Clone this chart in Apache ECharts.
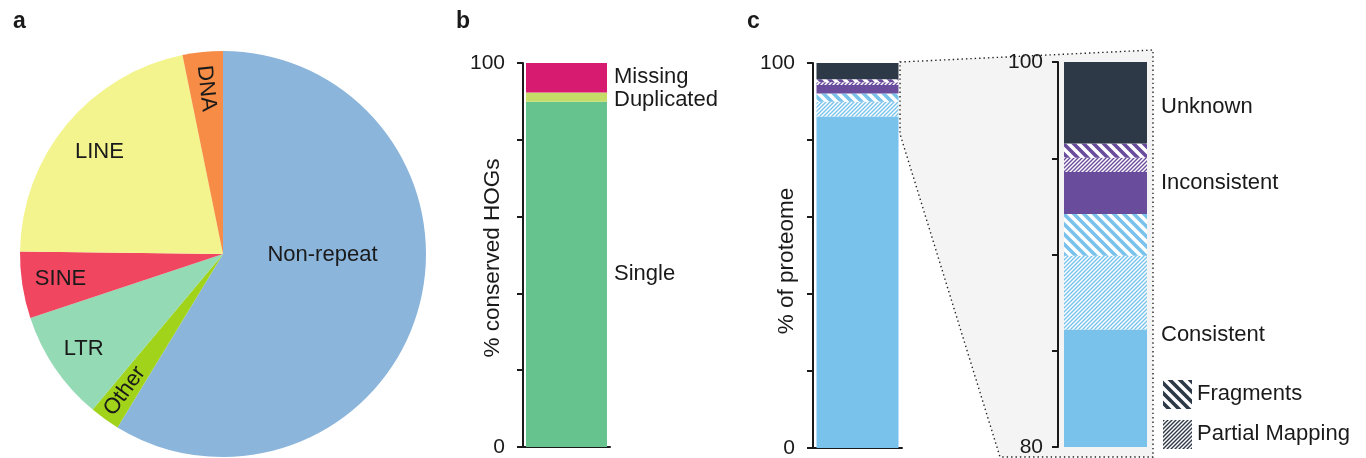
<!DOCTYPE html>
<html><head><meta charset="utf-8">
<script src="https://cdn.jsdelivr.net/npm/echarts@6/dist/echarts.min.js"></script>
<style>html,body{margin:0;padding:0;background:#fff}#c{width:1366px;height:458px}</style>
</head><body><div id="c"></div>
<script>
// ---------- data ----------
const pieCategories = ['Non-repeat', 'Other', 'LTR', 'SINE', 'LINE', 'DNA'];
const pieValues = [58.7, 2.4, 8.8, 5.3, 21.6, 3.2];

const hogCategories = ['Single', 'Duplicated', 'Missing'];
const hogValues = [89.9, 2.4, 7.7];

const proteomeCategories = ['Consistent', 'Consistent partial mapping', 'Consistent fragments',
  'Inconsistent', 'Inconsistent partial mapping', 'Inconsistent fragments', 'Unknown'];
const proteomeValues = [86.1, 3.84, 2.17, 2.17, 0.75, 0.73, 4.24];
const proteomeGroups = ['Consistent', 'Inconsistent', 'Unknown'];
const proteomeGroupMembers = [[0, 1, 2], [3, 4, 5], [6]];

const hogTickLabels = ['0', '100'];
const proteomeTickLabels = ['0', '100'];
const zoomTickLabels = ['80', '100'];
const legendLabels = ['Fragments', 'Partial Mapping'];
const panelLetters = ['a', 'b', 'c'];
const axisNames = ['% conserved HOGs', '% of proteome'];

// ---------- styles ----------
const FONT = '"Liberation Sans", Arial, Helvetica, sans-serif';
const TXT = '#1a1a1a';
const AX = '#1a1a1a';
const pieColors = ['#8bb5db', '#a0d31a', '#93dab5', '#f0465f', '#f4f48f', '#f68c45'];
const hogColors = ['#66c38e', '#c5dc68', '#d71b71'];
const hogLabelOffsets = [[0, 0], [0, 3], [0, -1]];
const BLUE = '#78c2ec', PURPLE = '#6a4c9c', DARK = '#2e3947';

function stripes(fg, bg, s, lw, dir) {
  const c = document.createElement('canvas'); c.width = s; c.height = s;
  const g = c.getContext('2d'); g.fillStyle = bg; g.fillRect(0, 0, s, s);
  g.strokeStyle = fg; g.lineWidth = lw; g.beginPath();
  for (let k = -2; k <= 2; k++) {
    if (dir === '\\') { g.moveTo(k * s - s, -s); g.lineTo(k * s + 2 * s, 2 * s); }
    else { g.moveTo(k * s + 2 * s, -s); g.lineTo(k * s - s, 2 * s); }
  }
  g.stroke();
  return { image: c, repeat: 'repeat' };
}
const frag = c => stripes(c, '#ffffff', 10, 3.6, '\\');
const part = c => stripes(c, '#ffffff', 4, 1.4, '/');
const proteomeFills = [BLUE, part(BLUE), frag(BLUE), PURPLE, part(PURPLE), frag(PURPLE), DARK];

const pieCenter = [223, 254], pieR = 203;
const pieLabelStyle = {
  'Non-repeat': { rf: 0.49, ang: 90.5, rot: 0 },
  'Other': { rf: 0.83, rot: 54 },
  'LTR': { rf: 0.83, rot: 0 },
  'SINE': { rf: 0.81, rot: 0 },
  'LINE': { rf: 0.79, rot: 0 },
  'DNA': { rf: 0.82, rot: -84 }
};
const pieTotal = pieValues.reduce((a, b) => a + b, 0);
const pieMid = []; { let acc = 0; pieValues.forEach(v => { pieMid.push((acc + v / 2) / pieTotal * 360); acc += v; }); }

function yAxisCfg(gi, min, max, interval, labels, margin) {
  return {
    type: 'value', gridIndex: gi, min, max, interval,
    axisLine: { show: true, lineStyle: { color: AX, width: 2 } },
    axisTick: { show: true, length: 6, lineStyle: { color: AX, width: 2 } },
    splitLine: { show: false },
    axisLabel: { fontSize: 21, color: TXT, fontFamily: FONT, margin,
      formatter: v => labels.includes(String(v)) ? String(v) : '' }
  };
}
function xAxisCfg(gi, showLine) {
  return { type: 'category', gridIndex: gi, data: [''],
    axisLine: { show: showLine, onZero: false, lineStyle: { color: AX, width: 2 } },
    axisTick: { show: false }, axisLabel: { show: false }, splitLine: { show: false } };
}

const series = [];
series.push({
  type: 'pie', center: pieCenter, radius: pieR, startAngle: 90, clockwise: true, silent: true,
  data: pieCategories.map((n, i) => ({ name: n, value: pieValues[i], itemStyle: { color: pieColors[i] } })),
  label: { show: true, position: 'inside', formatter: '{b}', fontSize: 22, color: TXT, fontFamily: FONT },
  labelLine: { show: false },
  labelLayout: p => {
    const n = pieCategories[p.dataIndex]; const st = pieLabelStyle[n];
    const a = (st.ang != null ? st.ang : pieMid[p.dataIndex]) * Math.PI / 180;
    return { x: pieCenter[0] + Math.sin(a) * st.rf * pieR, y: pieCenter[1] - Math.cos(a) * st.rf * pieR,
      rotate: st.rot, align: 'center', verticalAlign: 'middle' };
  }
});
hogCategories.forEach((n, i) => series.push({
  type: 'bar', name: n, xAxisIndex: 0, yAxisIndex: 0, stack: 'hog', barWidth: 81, silent: true,
  data: [hogValues[i]], itemStyle: { color: hogColors[i] },
  label: { show: true, position: 'right', distance: 7, offset: hogLabelOffsets[i], formatter: n,
    fontSize: 22, color: TXT, fontFamily: FONT }
}));
[1, 2].forEach(gi => proteomeCategories.forEach((n, i) => series.push({
  type: 'bar', name: n, xAxisIndex: gi, yAxisIndex: gi, stack: 'prot' + gi, barWidth: gi === 1 ? 82 : 83,
  silent: true, clip: true, data: [proteomeValues[i]], itemStyle: { color: proteomeFills[i] }
})));

const chart = echarts.init(document.getElementById('c'), null, { renderer: 'canvas' });
chart.setOption({
  animation: false,
  backgroundColor: '#ffffff',
  textStyle: { fontFamily: FONT },
  grid: [
    { left: 523, top: 63, width: 87, height: 384, outerBoundsMode: 'none' },
    { left: 813, top: 63, width: 89, height: 385, outerBoundsMode: 'none' },
    { left: 1058, top: 62, width: 95, height: 385, outerBoundsMode: 'none' }
  ],
  xAxis: [xAxisCfg(0, true), xAxisCfg(1, true), xAxisCfg(2, false)],
  yAxis: [
    yAxisCfg(0, 0, 100, 20, hogTickLabels, 18),
    yAxisCfg(1, 0, 100, 20, proteomeTickLabels, 18),
    yAxisCfg(2, 80, 100, 5, zoomTickLabels, 15)
  ],
  series
});

// ---------- decorations & text ----------
const els = [];
els.push({ type: 'polygon', z: -1, silent: true,
  shape: { points: [[900, 62], [1153, 50], [1153, 457], [1000, 457], [900, 134]] },
  style: { fill: '#f4f4f4', stroke: '#222', lineWidth: 1.4, lineDash: [1.4, 3] } });
function txt(text, x, y, size, opts) {
  opts = opts || {};
  return { type: 'text', x, y, rotation: opts.rot || 0, z: 10, silent: true,
    style: { text, font: (opts.bold ? 'bold ' : '') + size + 'px ' + FONT, fill: TXT,
      align: opts.align || 'left', textAlign: opts.align || 'left',
      verticalAlign: 'middle', textVerticalAlign: 'middle' } };
}
[[13, 22], [456, 22], [747, 22]].forEach((p, i) => els.push(txt(panelLetters[i], p[0], p[1], 23, { bold: true })));
els.push(txt(axisNames[0], 493, 258, 22.5, { rot: Math.PI / 2, align: 'center' }));
els.push(txt(axisNames[1], 787, 261, 22.5, { rot: Math.PI / 2, align: 'center' }));

let base = 0;
proteomeGroupMembers.forEach((mem, gi) => {
  const lo = base, hi = base + mem.reduce((s, j) => s + proteomeValues[j], 0); base = hi;
  const mid = (Math.max(lo, 80) + Math.min(hi, 100)) / 2;
  const p = chart.convertToPixel({ gridIndex: 2 }, [0, mid]);
  els.push(txt(proteomeGroups[gi], p[0] + 83 / 2 + 14, p[1] + 4, 22));
});
const legendFills = [frag(DARK), part(DARK)];
legendLabels.forEach((l, i) => {
  els.push({ type: 'rect', z: 10, silent: true, shape: { x: 1163, y: 380 + i * 40, width: 29, height: 29 },
    style: { fill: legendFills[i] } });
  els.push(txt(l, 1197, 394 + i * 40, 22));
});
chart.setOption({ graphic: { elements: els } });
</script></body></html>
